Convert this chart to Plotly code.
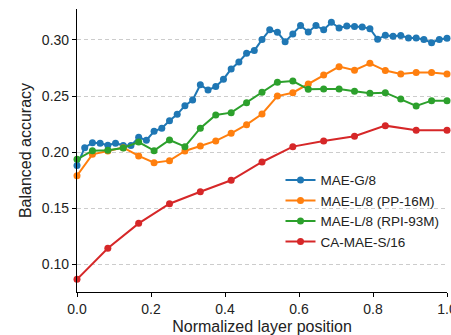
import plotly.graph_objects as go

# Balanced accuracy per layer, for each model
mae_g8 = [0.188, 0.204, 0.2084, 0.2079, 0.2061, 0.208, 0.206, 0.2058, 0.2132, 0.2106,
          0.2186, 0.2213, 0.228, 0.2337, 0.2414, 0.2465, 0.2601, 0.2554, 0.2584, 0.265,
          0.2741, 0.2804, 0.2881, 0.2905, 0.3003, 0.309, 0.3069, 0.2985, 0.3054, 0.3128,
          0.3071, 0.3128, 0.309, 0.3158, 0.3107, 0.3125, 0.3119, 0.3116, 0.3101, 0.3006,
          0.3042, 0.3033, 0.3039, 0.3018, 0.3018, 0.3004, 0.2976, 0.3004, 0.3015]
mae_l8_pp16m = [0.179, 0.198, 0.201, 0.204, 0.1966, 0.1906, 0.1924, 0.201, 0.2055, 0.21,
                0.2168, 0.2245, 0.234, 0.250, 0.253, 0.2608, 0.2688, 0.2762, 0.273, 0.2792,
                0.2727, 0.2697, 0.2709, 0.2709, 0.2697]
mae_l8_rpi93m = [0.1936, 0.2013, 0.2016, 0.2037, 0.209, 0.2013, 0.2108, 0.2049, 0.2213, 0.2331,
                 0.2352, 0.2441, 0.2534, 0.2623, 0.2634, 0.256, 0.2563, 0.2563, 0.2543, 0.2525,
                 0.253, 0.2474, 0.2411, 0.2459, 0.2459]
ca_mae_s16 = [0.0866, 0.1143, 0.1365, 0.154, 0.1647, 0.1749, 0.1912, 0.2049, 0.2099, 0.2141,
              0.2236, 0.2195, 0.2195]

series = [
    ("MAE-G/8", mae_g8, "#1f77b4"),
    ("MAE-L/8 (PP-16M)", mae_l8_pp16m, "#ff7f0e"),
    ("MAE-L/8 (RPI-93M)", mae_l8_rpi93m, "#2ca02c"),
    ("CA-MAE-S/16", ca_mae_s16, "#d62728"),
]

x_ticks = [0.0, 0.2, 0.4, 0.6, 0.8, 1.0]
y_ticks = [0.10, 0.15, 0.20, 0.25, 0.30]

fig = go.Figure()
for name, vals, color in series:
    n = len(vals) - 1
    xs = [i / n for i in range(len(vals))]
    fig.add_trace(go.Scatter(
        x=xs, y=vals, name=name, mode="lines+markers",
        line=dict(color=color, width=2),
        marker=dict(color=color, size=7),
        cliponaxis=False,
    ))

font_family = "Liberation Sans, Arial, sans-serif"

fig.update_layout(
    width=451, height=335,
    margin=dict(l=77, r=4, t=9, b=43),
    paper_bgcolor="white", plot_bgcolor="white",
    font=dict(family=font_family, size=14, color="#222222"),
    legend=dict(
        x=0.55, y=0.45, xanchor="left", yanchor="top",
        bgcolor="rgba(255,255,255,0)", borderwidth=0,
        font=dict(size=13.5, color="#222222"),
        tracegroupgap=0, itemwidth=30,
    ),
    xaxis=dict(
        range=[0, 1], tickvals=x_ticks, ticktext=[f"{v:.1f}" for v in x_ticks],
        showline=True, linecolor="black", linewidth=1.2,
        ticks="outside", ticklen=4, tickwidth=1.2, tickcolor="black",
        ticklabeloverflow="allow", automargin=False,
        showgrid=False, zeroline=False,
        title=dict(text="Normalized layer position", font=dict(size=16), standoff=5),
    ),
    yaxis=dict(
        range=[0.0753, 0.3276], tickvals=y_ticks, ticktext=[f"{v:.2f}" for v in y_ticks],
        showline=True, linecolor="black", linewidth=1.2,
        ticks="outside", ticklen=4, tickwidth=1.2, tickcolor="black",
        automargin=False,
        showgrid=True, gridcolor="#cccccc", gridwidth=1, griddash="4px,3px",
        zeroline=False,
        title=dict(text="Balanced accuracy", font=dict(size=16), standoff=6),
    ),
)

fig.write_html("out.html")
